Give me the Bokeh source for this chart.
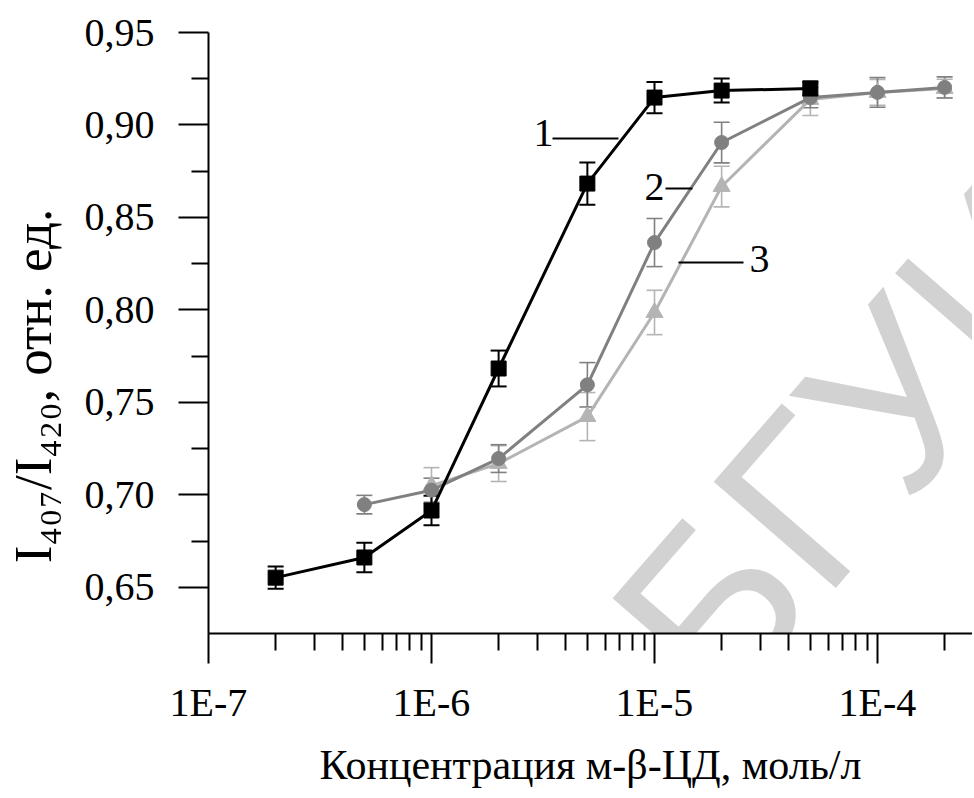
import math
from bokeh.plotting import figure
from bokeh.models import (ColumnDataSource, Whisker, TeeHead, FixedTicker, Label,
                          Range1d, CustomJSTickFormatter)
from bokeh.embed import file_html
from bokeh.resources import INLINE

# ---------------- data ----------------
conc_1 = [2e-7, 5e-7, 1e-6, 2e-6, 5e-6, 1e-5, 2e-5, 5e-5]
ratio_1 = [0.6552, 0.6661, 0.6915, 0.7683, 0.8683, 0.9148, 0.9186, 0.9197]
err_1 = [0.0060, 0.0080, 0.0080, 0.0097, 0.0114, 0.0084, 0.0065, 0.0038]

conc_2 = [5e-7, 1e-6, 2e-6, 5e-6, 1e-5, 2e-5, 5e-5, 1e-4, 2e-4]
ratio_2 = [0.6947, 0.7025, 0.7196, 0.7595, 0.8364, 0.8905, 0.9148, 0.9176, 0.9203]
err_2 = [0.0050, 0.0065, 0.0075, 0.0120, 0.0130, 0.0110, 0.0055, 0.0080, 0.0057]

conc_3 = [1e-6, 2e-6, 5e-6, 1e-5, 2e-5, 5e-5, 1e-4, 2e-4]
ratio_3 = [0.7050, 0.7169, 0.7423, 0.7986, 0.8667, 0.9138, 0.9176, 0.9197]
err_3 = [0.0097, 0.0097, 0.0130, 0.0120, 0.0110, 0.0087, 0.0070, 0.0050]

series_names = ["1", "2", "3"]
x_ticks = [1e-7, 1e-6, 1e-5, 1e-4]
x_tick_labels = ["1E-7", "1E-6", "1E-5", "1E-4"]
y_ticks = [0.65, 0.70, 0.75, 0.80, 0.85, 0.90, 0.95]
y_tick_labels = ["0,65", "0,70", "0,75", "0,80", "0,85", "0,90", "0,95"]
y_minor = [0.675, 0.725, 0.775, 0.825, 0.875, 0.925]
x_title = "Концентрация м-β-ЦД, моль/л"
y_title = "I\u2084\u2080\u2087/I\u2084\u2082\u2080, отн. ед."
watermark = "БГУИР"

# ---------------- layout ----------------
W, H = 972, 792
FRAME_L, FRAME_T, FRAME_H = 208, 32, 601
FRAME_W = W - FRAME_L
DECADE = 223.0
X0 = 1e-7
X1 = 10 ** (-7 + FRAME_W / DECADE)
Y0, Y1 = 0.625, 0.95


def dx(px):
    return 10 ** (math.log10(X0) + (px - FRAME_L) / DECADE)


def dy(py):
    return Y1 - (py - FRAME_T) / FRAME_H * (Y1 - Y0)


p = figure(width=W, height=H, x_axis_type="log",
           x_range=Range1d(X0, X1), y_range=Range1d(Y0, Y1),
           output_backend="svg", toolbar_location=None,
           min_border_left=FRAME_L, min_border_right=0,
           min_border_top=FRAME_T, min_border_bottom=H - FRAME_T - FRAME_H)
p.outline_line_color = None
p.grid.visible = False
p.background_fill_color = "white"
p.border_fill_color = "white"

SERIF = "Liberation Serif"

# watermark (faint, behind the data)
p.add_layout(Label(x=dx(660), y=dy(665), text=watermark, angle=49, angle_units="deg",
                   text_font="Liberation Sans", text_font_size="235px",
                   text_color="#d2d2d2", text_align="left", text_baseline="middle",
                   level="underlay"))

# axes
minor_x = [k * 10 ** e for e in range(-7, -3) for k in range(2, 10) if k * 10 ** e <= X1]
xa = p.xaxis[0]
ya = p.yaxis[0]
xa.ticker = FixedTicker(ticks=x_ticks, minor_ticks=minor_x)
ya.ticker = FixedTicker(ticks=y_ticks, minor_ticks=y_minor)
xa.formatter = CustomJSTickFormatter(args=dict(tv=x_ticks, tl=x_tick_labels), code="""
let best = 0, bd = Infinity;
for (let i = 0; i < tv.length; i++) {
  const d = Math.abs(Math.log10(tick) - Math.log10(tv[i]));
  if (d < bd) { bd = d; best = i; }
}
return tl[best];
""")
ya.formatter = CustomJSTickFormatter(args=dict(tv=y_ticks, tl=y_tick_labels), code="""
let best = 0, bd = Infinity;
for (let i = 0; i < tv.length; i++) {
  const d = Math.abs(tick - tv[i]);
  if (d < bd) { bd = d; best = i; }
}
return tl[best];
""")
for ax in (xa, ya):
    ax.axis_line_width = 2
    ax.axis_line_color = "black"
    ax.major_tick_line_width = 2
    ax.minor_tick_line_width = 2
    ax.major_tick_line_color = "black"
    ax.minor_tick_line_color = "black"
    ax.major_tick_out = 30
    ax.major_tick_in = 0
    ax.minor_tick_out = 17
    ax.minor_tick_in = 0
    ax.major_label_text_font = SERIF
    ax.major_label_text_font_size = "40px"
    ax.major_label_text_color = "black"
    ax.axis_label_text_font = SERIF
    ax.axis_label_text_font_style = "normal"
    ax.axis_label_text_color = "black"
xa.major_label_standoff = 16
ya.major_label_standoff = 24
xa.axis_label = x_title
xa.axis_label_text_font_size = "42px"
xa.axis_label_standoff = 14
# trailing no-break spaces shift the centred title down the axis, as in the reference
ya.axis_label = y_title + "\u00a0" * 8
ya.axis_label_text_font_size = "53px"
ya.axis_label_standoff = 20

# series
series = [
    (conc_3, ratio_3, err_3, "#b4b4b4", "triangle", 17, 1.6),
    (conc_2, ratio_2, err_2, "#808080", "circle", 14, 1.6),
    (conc_1, ratio_1, err_1, "black", "square", 15, 2),
]
for conc, ratio, err, color, marker, msize, wlw in series:
    src = ColumnDataSource(dict(x=conc, y=ratio,
                                lo=[r - e for r, e in zip(ratio, err)],
                                hi=[r + e for r, e in zip(ratio, err)]))
    p.line("x", "y", source=src, line_color=color, line_width=3)
    p.add_layout(Whisker(base="x", upper="hi", lower="lo", source=src, dimension="height",
                         line_color=color, line_width=wlw,
                         upper_head=TeeHead(size=16, line_color=color, line_width=wlw),
                         lower_head=TeeHead(size=16, line_color=color, line_width=wlw)))
    p.scatter("x", "y", source=src, marker=marker, size=msize,
              fill_color=color, line_color=color)

# curve numbers with leader lines
num_pos = [(543, 132), (654, 186), (759, 258)]
leaders = [(552, 618, 138), (665, 692, 188), (678, 743, 262)]
p.segment(x0=[dx(a) for a, b, c in leaders], x1=[dx(b) for a, b, c in leaders],
          y0=[dy(c) for a, b, c in leaders], y1=[dy(c) for a, b, c in leaders],
          line_color="black", line_width=2)
for name, (px, py) in zip(series_names, num_pos):
    p.add_layout(Label(x=dx(px), y=dy(py), text=name, text_font=SERIF,
                       text_font_size="40px", text_align="center",
                       text_baseline="alphabetic", text_color="black"))

open("out.html", "w").write(file_html(p, INLINE))
